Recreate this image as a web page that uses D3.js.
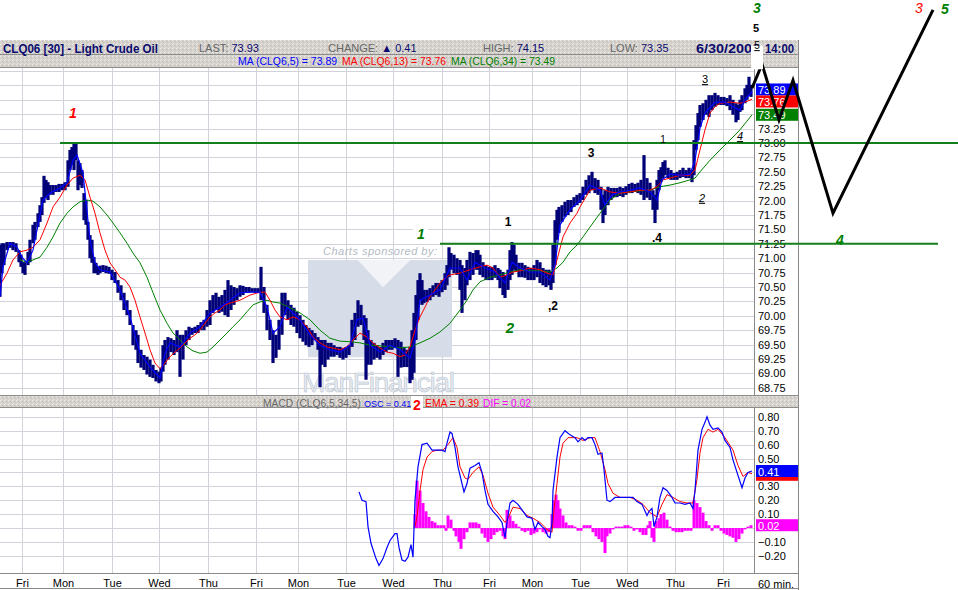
<!DOCTYPE html>
<html>
<head>
<meta charset="utf-8">
<script src="https://cdn.jsdelivr.net/npm/d3@7"></script>
<style>
  body { margin: 0; background: #fff; }
  svg { display: block; font-family: "Liberation Sans", Arial, sans-serif; }
</style>
</head>
<body>
<div id="chart"></div>
<script>
// ---- data (bar index = 30 min bar position) ----
var dayStarts = [22, 63, 112, 159, 208, 256, 298, 346, 393, 442, 489, 532, 580, 627, 675, 723];
var dayLabels = ["Fri", "Mon", "Tue", "Wed", "Thu", "Fri", "Mon", "Tue", "Wed", "Thu", "Fri", "Mon", "Tue", "Wed", "Thu", "Fri"];

var priceTicks = [68.75, 69.00, 69.25, 69.50, 69.75, 70.00, 70.25, 70.50, 70.75, 71.00, 71.25, 71.50,
  71.75, 72.00, 72.25, 72.50, 72.75, 73.00, 73.25, 73.50, 73.75, 74.00, 74.25];
var macdTicks = [-0.2, -0.1, 0, 0.1, 0.2, 0.3, 0.4, 0.5, 0.6, 0.7, 0.8];

// [bar, high, low]
var priceBars = [
  [0,71.23,70.33],[2,71.26,70.74],[4,71.26,70.88],[7,71.28,71.14],[10,71.28,71.18],[13,71.28,71.14],
  [16,71.26,71.11],[19,71.14,70.93],[21,71.06,70.85],[23,70.93,70.74],[25,70.93,70.71],[28,71.11,70.88],
  [30,71.32,70.93],[33,71.58,71.26],[35,71.63,71.32],[38,71.78,71.54],[40,71.92,71.63],[42,72.06,71.75],
  [44,72.43,71.96],[46,72.36,72.05],[48,72.32,72.01],[50,72.27,72.10],[53,72.27,72.10],[56,72.27,72.15],
  [59,72.29,72.15],[62,72.29,72.18],[65,72.32,72.18],[68,72.70,72.24],[70,72.88,72.53],[72,72.93,72.62],
  [74,73.00,72.53],[76,73.00,72.70],[78,72.70,72.18],[80,72.65,72.27],[82,72.53,72.22],[84,72.13,71.66],
  [86,72.01,71.58],[88,71.63,71.32],[90,71.40,71.00],[92,71.32,70.92],[94,71.02,70.74],[96,70.92,70.74],
  [98,70.85,70.71],[100,70.87,70.74],[103,70.88,70.76],[106,70.87,70.74],[109,70.85,70.73],[112,70.80,70.62],
  [115,70.76,70.57],[118,70.62,70.40],[121,70.53,70.27],[124,70.40,70.10],[127,70.27,70.01],[130,70.10,69.84],
  [133,69.84,69.49],[136,69.75,69.41],[138,69.67,69.18],[141,69.41,69.10],[144,69.32,69.06],[147,69.29,68.98],
  [150,69.24,68.94],[153,69.15,68.92],[156,69.06,68.86],[159,69.03,68.83],[161,69.10,68.86],[163,69.49,69.03],
  [165,69.58,69.15],[168,69.63,69.24],[171,69.61,69.37],[174,69.58,69.32],[177,69.75,69.37],[180,69.67,68.94],
  [183,69.67,69.24],[186,69.75,69.49],[189,69.81,69.58],[192,69.79,69.67],[195,69.81,69.70],[198,69.84,69.70],
  [201,69.89,69.75],[204,69.93,69.75],[207,70.10,69.81],[210,70.27,69.84],[213,70.36,70.05],[216,70.40,70.10],
  [219,70.33,70.05],[222,70.36,70.07],[225,70.45,70.01],[228,70.62,69.98],[231,70.53,70.10],[234,70.50,70.19],
  [237,70.48,70.27],[240,70.53,70.33],[243,70.52,70.36],[246,70.50,70.40],[249,70.50,70.40],[252,70.48,70.41],
  [255,70.48,70.40],[258,70.48,70.40],[261,70.85,70.27],[264,70.50,70.05],[267,70.19,69.75],[270,69.93,69.58],
  [273,69.75,69.18],[276,69.67,69.27],[279,69.93,69.41],[282,70.40,69.67],[285,70.40,70.01],[288,70.27,69.93],
  [291,70.19,69.84],[294,70.14,69.81],[297,70.07,69.70],[300,70.01,69.61],[303,69.93,69.55],[306,69.84,69.49],
  [309,69.79,69.46],[312,69.75,69.49],[315,69.70,69.58],[318,69.63,69.41],[320,69.58,68.76],[322,69.58,69.15],
  [325,69.58,69.11],[328,69.53,69.24],[331,69.53,69.29],[334,69.49,69.29],[337,69.46,69.32],[340,69.46,69.27],
  [343,69.44,69.24],[346,69.46,69.27],[349,69.49,69.32],[352,69.93,69.46],[355,70.05,69.58],[358,70.27,69.81],
  [361,70.19,69.84],[364,70.01,69.58],[366,69.96,68.89],[368,69.75,69.15],[371,69.58,69.15],[374,69.53,69.24],
  [377,69.49,69.27],[380,69.46,69.24],[383,69.53,69.32],[386,69.58,69.37],[389,69.58,69.41],[392,69.58,69.41],
  [395,69.61,69.44],[398,69.58,68.94],[401,69.55,69.10],[404,69.46,69.11],[407,69.41,69.11],[410,69.46,68.83],
  [412,69.75,68.89],[414,70.05,69.01],[416,70.36,69.58],[418,70.62,69.93],[420,70.74,70.27],[422,70.62,70.19],
  [424,70.45,70.22],[427,70.45,70.24],[430,70.48,70.27],[433,70.53,70.33],[436,70.57,70.36],[439,70.57,70.33],
  [442,70.62,70.41],[445,70.74,70.45],[447,70.88,70.53],[449,71.19,70.67],[451,71.09,70.80],[454,71.06,70.74],
  [457,71.00,70.71],[460,70.97,70.45],[462,70.88,70.05],[465,70.83,70.27],[467,70.97,70.53],[470,71.11,70.62],
  [473,71.09,70.71],[476,71.14,70.80],[478,71.14,70.80],[480,71.06,70.71],[483,70.93,70.67],[486,70.88,70.62],
  [489,70.85,70.62],[492,70.85,70.62],[495,70.88,70.66],[498,70.83,70.62],[500,70.80,70.48],[503,70.76,70.36],
  [505,70.71,70.31],[508,70.80,70.45],[510,71.14,70.62],[512,71.28,70.71],[514,71.23,70.80],[516,71.06,70.76],
  [519,70.92,70.67],[522,70.92,70.67],[525,70.88,70.66],[528,70.85,70.62],[531,70.83,70.62],[534,70.88,70.62],
  [537,70.97,70.67],[540,70.93,70.57],[543,70.83,70.53],[546,70.80,70.50],[549,70.80,70.53],[551,70.76,70.45],
  [553,71.23,70.57],[555,71.66,70.88],[557,71.84,71.32],[559,71.89,71.44],[562,71.92,71.63],[565,71.98,71.72],
  [568,72.01,71.75],[571,72.01,71.80],[574,72.06,71.89],[577,72.10,71.92],[580,72.13,71.96],[583,72.24,72.01],
  [586,72.36,72.10],[589,72.44,72.13],[592,72.50,72.18],[595,72.39,72.13],[598,72.36,72.10],[601,72.24,71.84],
  [603,72.10,71.61],[605,72.18,71.75],[608,72.24,71.92],[611,72.22,72.01],[614,72.22,72.06],[617,72.22,72.06],
  [620,72.24,72.08],[623,72.22,72.06],[626,72.25,72.10],[629,72.29,72.13],[632,72.31,72.13],[635,72.29,72.15],
  [638,72.31,72.13],[641,72.36,72.10],[644,72.79,72.01],[647,72.39,72.05],[650,72.31,72.01],[653,72.18,71.84],
  [655,72.10,71.61],[657,72.36,71.84],[659,72.53,72.18],[661,72.58,72.32],[663,72.67,72.39],[665,72.70,72.44],
  [668,72.57,72.39],[671,72.53,72.36],[674,72.48,72.36],[677,72.50,72.36],[680,72.53,72.39],[683,72.57,72.41],
  [686,72.53,72.39],[689,72.57,72.39],[692,72.53,72.32],[694,73.05,72.44],[696,73.31,72.88],[698,73.52,73.05],
  [700,73.66,73.28],[703,73.69,73.40],[706,73.75,73.49],[709,73.83,73.45],[712,73.83,73.57],[715,73.87,73.63],
  [718,73.83,73.66],[721,73.80,73.66],[724,73.80,73.66],[727,73.78,73.64],[730,73.83,73.57],[733,73.75,73.49],
  [736,73.69,73.36],[738,73.66,73.40],[740,73.75,73.54],[742,73.83,73.57],[745,73.95,73.69],[747,74.01,73.75],
  [749,74.15,73.83],[751,74.01,73.80]
];

// moving averages [bar, value]
var ma5 = [
  [0,70.33],[3,70.85],[10,71.26],[17,71.19],[22,71.02],[27,70.92],[33,71.14],[37,71.49],[43,72.01],[50,72.13],
  [60,72.22],[67,72.31],[73,72.70],[77,72.79],[83,72.48],[90,71.32],[95,70.92],[100,70.80],[110,70.76],[120,70.45],
  [130,69.98],[140,69.35],[150,69.11],[160,68.92],[165,69.35],[170,69.53],[180,69.46],[190,69.70],[200,69.81],
  [210,70.05],[220,70.15],[230,70.27],[240,70.40],[250,70.41],[260,70.41],[267,70.15],[273,69.70],[280,69.81],
  [287,70.15],[297,69.98],[300,69.93],[310,69.67],[320,69.49],[330,69.41],[340,69.37],[350,69.49],[357,69.93],
  [363,69.96],[370,69.49],[380,69.37],[390,69.49],[400,69.41],[410,69.27],[415,69.58],[420,70.27],[430,70.36],
  [440,70.45],[450,70.83],[460,70.83],[467,70.62],[475,70.93],[485,70.83],[495,70.76],[505,70.57],[512,70.93],
  [520,70.83],[530,70.76],[540,70.76],[550,70.62],[555,70.88],[560,71.58],[570,71.84],[580,72.01],[590,72.27],
  [600,72.18],[605,71.92],[612,72.10],[620,72.15],[630,72.18],[640,72.22],[650,72.15],[657,72.01],[662,72.36],
  [670,72.46],[680,72.44],[690,72.46],[695,72.70],[700,73.26],[705,73.52],[715,73.71],[725,73.71],[735,73.61],
  [740,73.57],[745,73.75],[752,73.89]
];
var ma13 = [
  [0,70.53],[7,70.74],[13,70.97],[20,71.11],[27,71.14],[33,71.19],[40,71.32],[47,71.61],[53,71.89],[60,72.06],
  [67,72.27],[73,72.39],[80,72.44],[85,72.36],[90,72.06],[95,71.78],[100,71.44],[105,71.14],[110,70.92],[115,70.80],
  [120,70.67],[125,70.62],[130,70.50],[135,70.27],[140,69.98],[145,69.70],[150,69.41],[155,69.18],[160,69.08],
  [165,69.18],[170,69.29],[175,69.37],[180,69.44],[185,69.53],[190,69.61],[195,69.67],[200,69.75],[205,69.87],
  [210,69.98],[215,70.05],[220,70.10],[225,70.19],[230,70.22],[240,70.27],[250,70.36],[260,70.41],[265,70.41],
  [270,70.27],[275,70.10],[280,69.98],[287,69.93],[293,69.98],[300,69.93],[307,69.81],[313,69.63],[320,69.53],
  [327,69.46],[333,69.44],[340,69.41],[347,69.46],[353,69.58],[360,69.70],[367,69.63],[373,69.53],[380,69.44],
  [387,69.37],[393,69.35],[400,69.29],[405,69.32],[410,69.46],[415,69.75],[420,69.98],[425,70.15],[430,70.33],
  [435,70.45],[440,70.57],[445,70.66],[450,70.71],[460,70.74],[470,70.80],[480,70.85],[487,70.88],[493,70.83],
  [500,70.67],[507,70.71],[513,70.76],[520,70.78],[530,70.83],[540,70.80],[547,70.74],[553,70.71],[557,70.97],
  [563,71.37],[570,71.61],[577,71.78],[580,71.89],[590,72.18],[600,72.22],[610,72.15],[620,72.13],[630,72.15],
  [640,72.18],[650,72.18],[657,72.24],[663,72.36],[670,72.39],[680,72.44],[690,72.44],[695,72.53],[700,72.88],
  [705,73.23],[710,73.52],[715,73.63],[720,73.69],[730,73.71],[740,73.69],[745,73.71],[752,73.76]
];
var ma34 = [
  [20,70.97],[27,70.93],[33,70.97],[40,71.02],[47,71.19],[53,71.37],[60,71.61],[67,71.78],[73,71.89],[80,71.98],
  [87,72.01],[93,71.99],[100,71.89],[107,71.75],[113,71.61],[120,71.44],[127,71.26],[133,71.09],[140,70.92],
  [147,70.67],[153,70.40],[160,70.10],[167,69.87],[173,69.70],[180,69.58],[187,69.46],[193,69.39],[200,69.35],
  [207,69.37],[213,69.46],[220,69.58],[227,69.70],[233,69.81],[240,69.93],[247,70.07],[253,70.19],[260,70.24],
  [267,70.27],[273,70.24],[280,70.22],[290,70.14],[300,70.05],[310,69.93],[320,69.75],[330,69.61],[340,69.56],
  [350,69.55],[360,69.53],[370,69.49],[380,69.48],[390,69.46],[400,69.44],[410,69.46],[420,69.53],[430,69.61],
  [440,69.72],[450,69.87],[460,70.10],[467,70.27],[473,70.45],[480,70.59],[490,70.67],[500,70.71],[510,70.76],
  [520,70.80],[530,70.78],[540,70.78],[550,70.76],[557,70.83],[563,70.93],[570,71.11],[577,71.23],[583,71.37],
  [590,71.54],[600,71.78],[610,72.01],[620,72.13],[630,72.15],[640,72.17],[650,72.18],[660,72.24],[670,72.27],
  [680,72.31],[690,72.36],[695,72.39],[700,72.50],[710,72.70],[720,72.88],[730,73.05],[740,73.23],[752,73.49]
];

// MACD (5,34,5): oscillator, signal EMA, histogram DIF  [bar, value]
var macdLine = [
  [359,0.26],[362,0.20],[366,0.19],[368,0.01],[371,-0.11],[376,-0.22],[379,-0.27],[383,-0.22],[387,-0.14],
  [390,-0.09],[395,-0.04],[397,-0.04],[399,-0.14],[402,-0.23],[405,-0.24],[408,-0.21],[411,-0.12],[413,-0.21],
  [415,0.20],[418,0.44],[422,0.60],[427,0.61],[432,0.56],[437,0.56],[442,0.56],[445,0.55],[447,0.61],[450,0.69],
  [452,0.68],[455,0.58],[458,0.44],[462,0.32],[464,0.26],[467,0.32],[470,0.43],[475,0.45],[479,0.47],[482,0.40],
  [485,0.27],[488,0.17],[493,0.12],[498,0.08],[502,0.04],[505,-0.07],[507,0.04],[510,0.18],[513,0.20],[518,0.17],
  [522,0.13],[527,0.08],[532,0.07],[535,-0.01],[538,0.04],[542,0.01],[545,-0.01],[548,-0.06],[550,-0.07],
  [552,0.04],[553,0.27],[557,0.51],[560,0.65],[565,0.70],[570,0.67],[575,0.65],[578,0.62],[582,0.65],[585,0.63],
  [588,0.65],[592,0.65],[595,0.60],[598,0.53],[602,0.54],[604,0.42],[607,0.20],[610,0.19],[615,0.22],[620,0.22],
  [627,0.22],[633,0.22],[637,0.19],[642,0.17],[647,0.09],[649,0.12],[652,0.14],[654,0.01],[657,0.08],[660,0.22],
  [663,0.29],[667,0.27],[672,0.22],[675,0.18],[680,0.18],[685,0.17],[690,0.18],[693,0.14],[695,0.27],[698,0.56],
  [702,0.71],[705,0.76],[707,0.80],[710,0.74],[713,0.71],[718,0.72],[722,0.69],[725,0.63],[730,0.58],[733,0.49],
  [737,0.40],[742,0.29],[745,0.36],[748,0.40],[752,0.41]
];
var macdSignal = [
  [415,0.01],[417,0.08],[420,0.27],[423,0.42],[427,0.51],[432,0.55],[437,0.56],[443,0.56],[448,0.60],[453,0.65],
  [457,0.58],[460,0.44],[465,0.36],[468,0.35],[473,0.40],[479,0.44],[483,0.38],[488,0.25],[493,0.15],[500,0.09],
  [505,0.04],[508,0.07],[513,0.15],[520,0.14],[527,0.09],[533,0.07],[540,0.04],[547,-0.01],[552,-0.03],[554,0.13],
  [557,0.32],[560,0.51],[563,0.61],[568,0.65],[577,0.65],[583,0.63],[590,0.65],[595,0.65],[600,0.55],[605,0.42],
  [608,0.32],[613,0.25],[620,0.22],[630,0.22],[637,0.20],[643,0.17],[650,0.11],[657,0.08],[662,0.17],[667,0.24],
  [673,0.22],[680,0.19],[687,0.18],[693,0.18],[697,0.35],[700,0.54],[703,0.65],[708,0.71],[713,0.69],[718,0.71],
  [725,0.65],[733,0.56],[738,0.45],[743,0.37],[748,0.40],[752,0.39]
];
var macdHist = [
  [415,0.10],[417,0.34],[420,0.27],[423,0.18],[426,0.12],[429,0.08],[432,0.05],[435,0.04],[438,0.02],[441,0.02],
  [444,0.02],[446,-0.02],[448,0.09],[451,0.06],[454,-0.02],[456,-0.06],[459,-0.10],[461,-0.15],[464,-0.08],
  [467,-0.03],[470,0.04],[473,0.04],[476,0.04],[479,0.03],[482,-0.04],[485,-0.07],[488,-0.10],[491,-0.08],
  [494,-0.05],[497,-0.03],[500,-0.02],[503,-0.06],[505,-0.08],[507,0.13],[510,0.09],[513,0.05],[516,0.03],
  [519,0.01],[522,-0.02],[525,-0.03],[528,-0.02],[531,-0.05],[534,-0.04],[537,-0.03],[540,-0.01],[543,-0.03],
  [546,-0.04],[549,-0.03],[552,0.10],[554,0.20],[556,0.24],[558,0.20],[560,0.14],[563,0.09],[566,0.04],[569,0.02],
  [572,0.02],[575,0.01],[578,-0.02],[581,-0.02],[584,0.02],[587,0.02],[590,0.02],[593,-0.03],[596,-0.06],
  [599,-0.08],[602,-0.10],[605,-0.18],[607,-0.06],[610,-0.04],[613,-0.01],[616,0.01],[619,0.01],[622,0.01],
  [625,0.02],[628,0.02],[631,0.01],[634,-0.02],[637,-0.01],[640,-0.03],[643,-0.05],[646,-0.05],[648,0.02],
  [650,0.05],[652,-0.07],[654,-0.10],[656,0.05],[659,0.07],[661,0.10],[664,0.11],[667,0.06],[670,0.01],[673,-0.02],
  [676,-0.03],[679,-0.03],[682,-0.03],[685,-0.02],[688,-0.02],[691,-0.02],[694,0.20],[697,0.18],[700,0.15],
  [703,0.11],[706,0.05],[709,0.02],[712,-0.02],[715,0.02],[718,0.02],[721,-0.02],[724,-0.04],[727,-0.05],
  [730,-0.06],[733,-0.07],[736,-0.10],[739,-0.08],[742,-0.04],[745,-0.01],[748,0.01],[751,0.02]
];

// last values shown in the axis tags
var priceLast = [73.89, 73.76, 73.49];
var macdLast = [0.39, 0.41, 0.02];

// hand drawn wave projection [bar, price] and support levels
var projection = [[752,73.95],[762,74.37],[779,73.40],[793,74.09],[833,71.78],[933,75.31]];
var levels = [73.00, 71.25];
var levelSpans = [[60, 958], [440, 938]];

// ---- layout ----
var W = 958, H = 590;
var plotRight = 754, axisRight = 798;
var priceTop = 68, priceBottom = 395;
var macdHeadTop = 395, macdTop = 408, macdBottom = 573;

var svg = d3.select("#chart").append("svg")
  .attr("width", W)
  .attr("height", H);

var defs = svg.append("defs");
var tex = defs.append("pattern")
  .attr("id", "tex")
  .attr("width", 4).attr("height", 4)
  .attr("patternUnits", "userSpaceOnUse");
tex.append("rect").attr("width", 4).attr("height", 4).attr("fill", "#d5d2cd");
[[0,0,"#eeedea"],[2,1,"#bfbbb5"],[1,3,"#e7e5e1"],[3,2,"#c9c5be"],[1,1,"#dcd9d4"]].forEach(function(p) {
  tex.append("rect").attr("x", p[0]).attr("y", p[1]).attr("width", 1).attr("height", 1).attr("fill", p[2]);
});
defs.append("clipPath").attr("id", "clipPrice").append("rect")
  .attr("x", 0).attr("y", priceTop).attr("width", plotRight).attr("height", priceBottom - priceTop);
defs.append("clipPath").attr("id", "clipMacd").append("rect")
  .attr("x", 0).attr("y", macdTop).attr("width", plotRight).attr("height", macdBottom - macdTop);

// scales
var x = d3.scaleLinear().domain([0, 754]).range([0, plotRight]);
var yPrice = d3.scaleLinear().domain([68.75, 73]).range([387.8, 143]);
var yMacd = d3.scaleLinear().domain([-0.2, 0.8]).range([555.8, 416.8]);

// ---- grid ----
var grid = svg.append("g").attr("stroke", "#d2d2da").attr("stroke-width", 1);
grid.selectAll(".hp").data(priceTicks).enter().append("line")
  .attr("x1", 0).attr("x2", plotRight)
  .attr("y1", d => Math.round(yPrice(d)) + 0.5).attr("y2", d => Math.round(yPrice(d)) + 0.5);
grid.selectAll(".hm").data(macdTicks).enter().append("line")
  .attr("x1", 0).attr("x2", plotRight)
  .attr("y1", d => Math.round(yMacd(d)) + 0.5).attr("y2", d => Math.round(yMacd(d)) + 0.5);
grid.selectAll(".vp").data(dayStarts).enter().append("line")
  .attr("x1", d => Math.round(x(d)) + 0.5).attr("x2", d => Math.round(x(d)) + 0.5)
  .attr("y1", priceTop).attr("y2", priceBottom);
grid.selectAll(".vm").data(dayStarts).enter().append("line")
  .attr("x1", d => Math.round(x(d)) + 0.5).attr("x2", d => Math.round(x(d)) + 0.5)
  .attr("y1", macdTop).attr("y2", macdBottom);

// ---- watermark ----
var wm = svg.append("g").attr("clip-path", "url(#clipPrice)");
function pts(list) { return list.map(p => x(p[0]) + "," + yPrice(p[1])).join(" "); }
wm.append("polygon")
  .attr("points", pts([[308,70.97],[358,70.97],[383,70.50],[410,70.97],[452,70.97],[452,69.28],[308,69.28]]))
  .attr("fill", "#d6dce8");
wm.append("polygon")
  .attr("points", pts([[358,70.97],[383,70.50],[410,70.97]]))
  .attr("fill", "#f1f3f7");
wm.append("text")
  .attr("x", x(323)).attr("y", yPrice(71.06))
  .attr("font-size", 11).attr("font-style", "italic")
  .attr("textLength", 114)
  .attr("fill", "#b4bac2")
  .text("Charts sponsored by:");
wm.append("text")
  .attr("x", x(302)).attr("y", yPrice(68.68))
  .attr("font-size", 28)
  .attr("textLength", 153)
  .attr("fill", "#e6ebf0").attr("stroke", "#b9c4d0").attr("stroke-width", 0.6)
  .text("ManFinancial");

// ---- price panel ----
var pricePlot = svg.append("g").attr("clip-path", "url(#clipPrice)");
pricePlot.selectAll(".bar").data(priceBars).enter().append("rect")
  .attr("x", d => x(d[0]) - 1.6)
  .attr("width", 3.2)
  .attr("y", d => yPrice(d[1]))
  .attr("height", d => Math.max(1.5, yPrice(d[2]) - yPrice(d[1])))
  .attr("fill", "#000078");

var priceLine = d3.line().x(d => x(d[0])).y(d => yPrice(d[1]));
pricePlot.append("path").datum(ma34).attr("d", priceLine)
  .attr("fill", "none").attr("stroke", "#008000").attr("stroke-width", 1);
pricePlot.append("path").datum(ma13).attr("d", priceLine)
  .attr("fill", "none").attr("stroke", "#ff0000").attr("stroke-width", 1);
pricePlot.append("path").datum(ma5).attr("d", priceLine)
  .attr("fill", "none").attr("stroke", "#0000ff").attr("stroke-width", 1.2);

// ---- MACD panel ----
var macdPlot = svg.append("g").attr("clip-path", "url(#clipMacd)");
macdPlot.selectAll(".hist").data(macdHist).enter().append("rect")
  .attr("x", d => x(d[0]) - 1.5)
  .attr("width", 3)
  .attr("y", d => Math.min(yMacd(0), yMacd(d[1])))
  .attr("height", d => Math.max(1, Math.abs(yMacd(d[1]) - yMacd(0))))
  .attr("fill", "#ff00ff");
var macdPath = d3.line().x(d => x(d[0])).y(d => yMacd(d[1]));
macdPlot.append("path").datum(macdSignal).attr("d", macdPath)
  .attr("fill", "none").attr("stroke", "#ff0000").attr("stroke-width", 1);
macdPlot.append("path").datum(macdLine).attr("d", macdPath)
  .attr("fill", "none").attr("stroke", "#0000ff").attr("stroke-width", 1.2);

// ---- frames ----
var frame = svg.append("g").attr("stroke", "#8a8a8a").attr("stroke-width", 1);
frame.append("line").attr("x1", plotRight + 0.5).attr("x2", plotRight + 0.5).attr("y1", priceTop).attr("y2", macdBottom);
frame.append("line").attr("x1", axisRight + 0.5).attr("x2", axisRight + 0.5).attr("y1", 40).attr("y2", H);
frame.append("line").attr("x1", 0).attr("x2", axisRight).attr("y1", macdBottom + 0.5).attr("y2", macdBottom + 0.5);
frame.append("line").attr("x1", 0).attr("x2", axisRight).attr("y1", H - 1.5).attr("y2", H - 1.5);

// ---- header bands ----
svg.append("rect").attr("x", 0).attr("y", 40).attr("width", axisRight).attr("height", 27).attr("fill", "url(#tex)");
svg.append("line").attr("x1", 0).attr("x2", axisRight).attr("y1", 54.5).attr("y2", 54.5).attr("stroke", "#8c8c8c");
svg.append("line").attr("x1", 0).attr("x2", axisRight).attr("y1", 67.5).attr("y2", 67.5).attr("stroke", "#8c8c8c");
svg.append("rect").attr("x", 0).attr("y", macdHeadTop).attr("width", axisRight).attr("height", macdTop - macdHeadTop).attr("fill", "url(#tex)");
svg.append("line").attr("x1", 0).attr("x2", axisRight).attr("y1", macdHeadTop + 0.5).attr("y2", macdHeadTop + 0.5).attr("stroke", "#8c8c8c");
svg.append("line").attr("x1", 0).attr("x2", axisRight).attr("y1", macdTop - 0.5).attr("y2", macdTop - 0.5).attr("stroke", "#8c8c8c");

function headText(xp, yp, parts, size, weight, len) {
  var t = svg.append("text").attr("x", xp).attr("y", yp).attr("font-size", size).attr("font-weight", weight || "normal");
  if (len) t.attr("textLength", len).attr("lengthAdjust", "spacingAndGlyphs");
  parts.forEach(function(p) { t.append("tspan").attr("fill", p[1]).text(p[0]); });
  return t;
}
var navy = "#0a0a6e", grey = "#666";
headText(3, 53, [["CLQ06 [30] - Light Crude Oil", navy]], 13, "bold", 155);
headText(199, 52, [["LAST: ", grey], ["73.93", navy]], 11);
headText(328, 52, [["CHANGE: ", grey], ["\u25B2 0.41", navy]], 11);
headText(483, 52, [["HIGH: ", grey], ["74.15", navy]], 11);
headText(610, 52, [["LOW: ", grey], ["73.35", navy]], 11);
headText(696, 53, [["6/30/2006", navy]], 13, "bold", 64);
headText(765, 53, [["14:00", navy]], 13, "bold", 29);
headText(238, 65, [["MA (CLQ6,5) = 73.89", "#0000ff"]], 11, "normal", 99);
headText(342, 65, [["MA (CLQ6,13) = 73.76", "#ff0000"]], 11, "normal", 104);
headText(451, 65, [["MA (CLQ6,34) = 73.49", "#008000"]], 11, "normal", 104);
headText(263, 407, [["MACD (CLQ6,5,34,5)", grey]], 11, "normal", 98);
headText(364, 406.5, [["OSC = 0.41", "#0000ff"]], 9);
headText(425, 407, [["EMA = 0.39", "#ff0000"]], 11, "normal", 54);
headText(483, 407, [["DIF = 0.02", "#ff00ff"]], 11, "normal", 48);

// ---- axes (labels under a value tag are hidden, as in the source) ----
var tagColors = ["#0000ff", "#ff0000", "#008000"];
var tagY = priceLast.map(v => yPrice(v));
for (var k = 0; k < 5; k++) {
  for (var i = 1; i < tagY.length; i++) {
    var gap = tagY[i] - tagY[i - 1];
    if (gap < 12) { var s = (12 - gap) / 2; tagY[i - 1] -= s; tagY[i] += s; }
  }
}
var macdTagY = macdLast.map(v => yMacd(v));
function freeOf(list, yy) { return list.every(t => Math.abs(t - yy) > 8); }

function styleAxis(g) {
  g.select(".domain").remove();
  g.selectAll("text").attr("font-size", 11).attr("fill", "#000").attr("font-family", "Liberation Sans, Arial, sans-serif");
}
svg.append("g")
  .attr("transform", "translate(" + plotRight + ",0)")
  .call(d3.axisRight(yPrice)
    .tickValues(priceTicks.filter(d => d <= 74 && freeOf(tagY, yPrice(d))))
    .tickSize(0).tickPadding(4).tickFormat(d3.format(".2f")))
  .call(styleAxis);
svg.append("g")
  .attr("transform", "translate(" + plotRight + ",0)")
  .call(d3.axisRight(yMacd)
    .tickValues(macdTicks.filter(d => freeOf(macdTagY, yMacd(d))))
    .tickSize(0).tickPadding(4).tickFormat(d3.format(".2f")))
  .call(styleAxis);
svg.append("g")
  .attr("transform", "translate(0," + macdBottom + ")")
  .call(d3.axisBottom(x).tickValues(dayStarts).tickSize(0).tickPadding(6).tickFormat((d, i) => dayLabels[i]))
  .call(styleAxis);
svg.append("text").attr("x", 758).attr("y", 588).attr("font-size", 11).text("60 min.");

// ---- last value tags ----
function tag(yc, label, fill) {
  svg.append("rect").attr("x", plotRight + 2).attr("y", yc - 6).attr("width", axisRight - plotRight - 2).attr("height", 12).attr("fill", fill);
  if (label) svg.append("text").attr("x", plotRight + 4).attr("y", yc + 4.5).attr("font-size", 11).attr("fill", "#fff").text(label);
}
priceLast.forEach((v, i) => tag(tagY[i], d3.format(".2f")(v), tagColors[i]));
tag(macdTagY[0] + 1, "", "#ff0000");
tag(macdTagY[1], d3.format(".2f")(macdLast[1]), "#0000ff");
tag(macdTagY[2], d3.format(".2f")(macdLast[2]), "#ff00ff");

// ---- hand drawn annotations ----
svg.selectAll(".lvl").data(levels).enter().append("line")
  .attr("x1", (d, i) => x(levelSpans[i][0])).attr("x2", (d, i) => x(levelSpans[i][1]))
  .attr("y1", d => yPrice(d)).attr("y2", d => yPrice(d))
  .attr("stroke", "#12801a").attr("stroke-width", 2);

svg.append("path").datum(projection)
  .attr("d", priceLine)
  .attr("fill", "none").attr("stroke", "#000").attr("stroke-width", 3).attr("stroke-linejoin", "miter");

// white patches behind some labels
[[413, 428, 71.54, 71.29], [751, 763, 74.69, 74.28]].forEach(function(b) {
  svg.append("rect").attr("x", x(b[0])).attr("width", x(b[1]) - x(b[0]))
    .attr("y", yPrice(b[2])).attr("height", yPrice(b[3]) - yPrice(b[2])).attr("fill", "#fff");
});
svg.append("rect").attr("x", x(411)).attr("width", x(423) - x(411)).attr("y", 396).attr("height", 14).attr("fill", "#fff");

var waveLabels = [
  ["1", 73, 73.43, "#ff0000", 14, "bold", "italic", false],
  ["3", 757, 75.25, "#008000", 14, "bold", "italic", false],
  ["5", 756, 74.93, "#000", 11, "bold", "normal", false],
  ["5", 757, 74.63, "#000", 10, "normal", "normal", true],
  ["3", 919, 75.25, "#ff0000", 14, "normal", "italic", false],
  ["5", 945, 75.24, "#008000", 14, "bold", "italic", false],
  ["1", 421, 71.34, "#008000", 14, "bold", "italic", false],
  ["1", 508, 71.56, "#000", 12, "bold", "normal", false],
  ["2", 510, 69.70, "#008000", 15, "bold", "italic", false],
  [",2", 553, 70.10, "#000", 12, "bold", "normal", false],
  ["3", 591, 72.76, "#000", 12, "bold", "normal", false],
  ["1", 663, 73.00, "#000", 10, "normal", "normal", false],
  [".4", 657, 71.28, "#000", 12, "bold", "normal", false],
  ["2", 702, 71.98, "#000", 11, "normal", "italic", true],
  ["3", 705, 74.04, "#000", 11, "normal", "normal", true],
  ["4", 740, 73.05, "#000", 11, "normal", "italic", true],
  ["4", 840, 71.23, "#008000", 14, "bold", "italic", false]
];
svg.selectAll(".wave").data(waveLabels).enter().append("text")
  .attr("x", d => x(d[1])).attr("y", d => yPrice(d[2]))
  .attr("text-anchor", "middle")
  .attr("fill", d => d[3]).attr("font-size", d => d[4])
  .attr("font-weight", d => d[5]).attr("font-style", d => d[6])
  .attr("text-decoration", d => d[7] ? "underline" : "none")
  .text(d => d[0]);
svg.append("text").attr("x", x(417)).attr("y", 410).attr("text-anchor", "middle")
  .attr("fill", "#ff0000").attr("font-size", 14).attr("font-weight", "bold").text("2");
</script>
</body>
</html>
